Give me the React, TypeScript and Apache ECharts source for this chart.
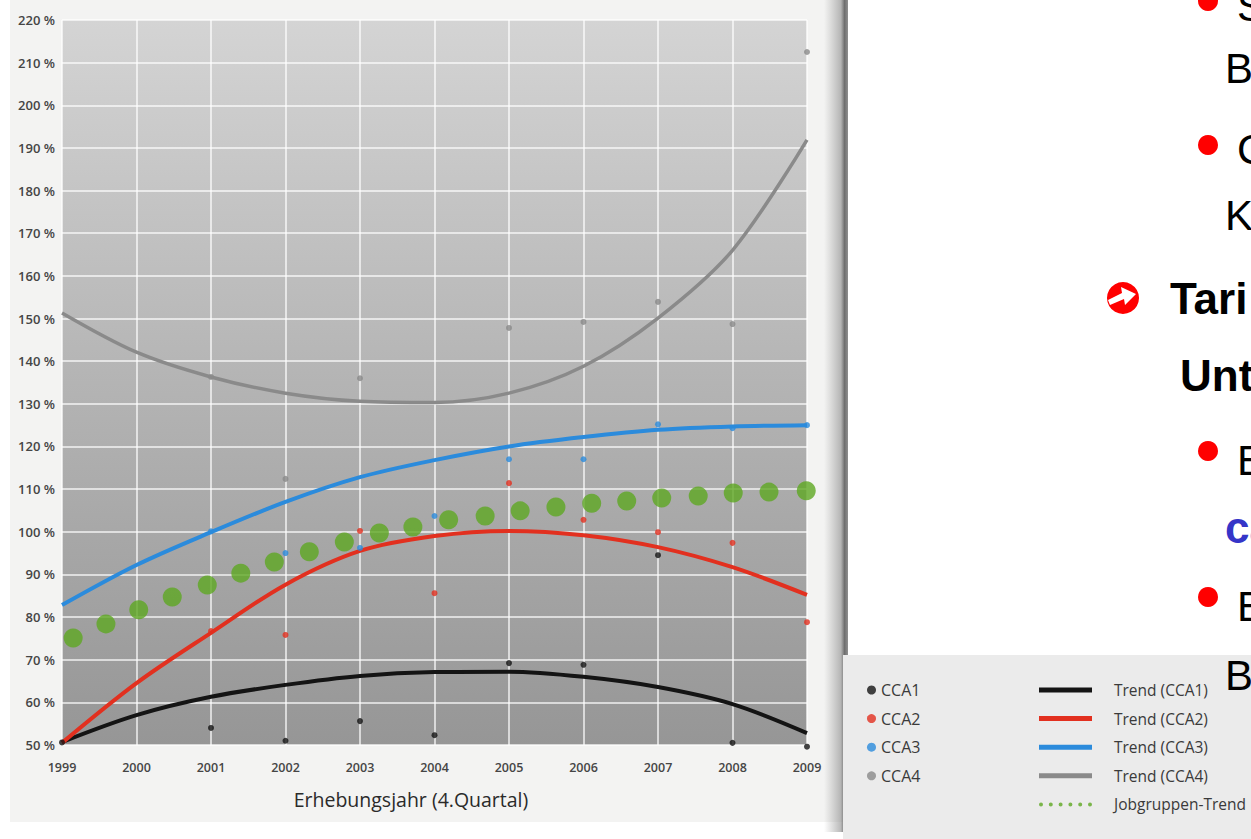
import React, { useEffect, useRef } from "react";
import * as echarts from "echarts";

// ---- data ----
const trendYears = [1999, 2000, 2001, 2002, 2003, 2004, 2005, 2006, 2007, 2008, 2009];
const trendCCA1 = [50.7, 57.0, 61.3, 64.1, 66.2, 67.1, 67.2, 66.0, 63.6, 59.6, 52.8];
const trendCCA2 = [50.5, 64.5, 76.3, 87.6, 95.5, 99.0, 100.2, 99.2, 96.4, 91.7, 85.2];
const trendCCA3 = [82.8, 92.2, 99.9, 107.0, 112.8, 116.8, 120.0, 122.2, 123.9, 124.7, 125.0];
const trendCCA4 = [151.3, 142.1, 136.3, 132.5, 130.6, 130.3, 132.5, 138.8, 150.1, 166.0, 191.9];

const cca1Years = [1999, 2001, 2002, 2003, 2004, 2005, 2006, 2007, 2008, 2009];
const cca1Values = [50.6, 54.0, 51.0, 55.6, 52.3, 69.2, 68.8, 94.5, 50.5, 49.6];
const cca2Years = [2001, 2002, 2003, 2004, 2005, 2006, 2007, 2008, 2009];
const cca2Values = [76.7, 75.8, 100.2, 85.6, 111.4, 102.8, 99.9, 97.4, 78.8];
const cca3Years = [2001, 2002, 2003, 2004, 2005, 2006, 2007, 2008, 2009];
const cca3Values = [100.1, 95.0, 96.2, 103.7, 117.0, 117.0, 125.2, 124.3, 125.0];
const cca4Years = [2001, 2002, 2003, 2005, 2006, 2007, 2008, 2009];
const cca4Values = [136.3, 112.4, 136.0, 147.8, 149.2, 153.9, 148.7, 212.5];

const jobYears = [1999.15, 1999.59, 2000.03, 2000.48, 2000.95, 2001.4, 2001.85, 2002.32, 2002.79, 2003.26, 2003.71,
  2004.19, 2004.68, 2005.15, 2005.63, 2006.11, 2006.58, 2007.05, 2007.54, 2008.01, 2008.49, 2008.99];
const jobValues = [75.1, 78.4, 81.7, 84.7, 87.5, 90.3, 92.9, 95.3, 97.6, 99.7, 101.1,
  102.8, 103.7, 104.9, 105.8, 106.7, 107.2, 107.9, 108.4, 109.1, 109.3, 109.6];

const scatterNames = ["CCA1", "CCA2", "CCA3", "CCA4"];
const trendNames = ["Trend (CCA1)", "Trend (CCA2)", "Trend (CCA3)", "Trend (CCA4)"];
const jobName = "Jobgruppen-Trend";
const xAxisTitle = "Erhebungsjahr (4.Quartal)";

const colBlack = "#141414";
const colRed = "#e2301f";
const colBlue = "#2b8bdc";
const colGray = "#8a8a8a";
const colGreen = "#5ea822";

const zip = (xs: number[], ys: number[]) => xs.map((x, i) => [x, ys[i]]);

const FONT = "'Open Sans', 'Noto Sans', sans-serif";

function slideText(text: string, x: number, y: number, size: number, bold: boolean, color = "#000") {
  return {
    type: "text",
    z: 20,
    style: {
      text,
      x,
      y,
      font: `${bold ? "bold " : ""}${size}px 'Liberation Sans', Arial, sans-serif`,
      fill: color,
      textAlign: "left",
      textVerticalAlign: "middle",
      align: "left",
      verticalAlign: "middle",
    },
  };
}

function bullet(cx: number, cy: number) {
  return { type: "circle", z: 20, shape: { cx, cy, r: 10 }, style: { fill: "#ff0000" } };
}

export default function App() {
  const ref = useRef<HTMLDivElement>(null);
  useEffect(() => {
    document.body.style.margin = "0";
    const chart = echarts.init(ref.current!, undefined, { renderer: "svg" });
    const lineSeries = (name: string, data: number[], color: string, width: number) => ({
      name,
      type: "line",
      data: zip(trendYears, data),
      smooth: 0.33,
      symbol: "none",
      color,
      lineStyle: { color, width },
      z: 2,
    });
    const dotSeries = (name: string, xs: number[], ys: number[], color: string) => ({
      name,
      type: "scatter",
      data: zip(xs, ys),
      symbol: "circle",
      symbolSize: 6,
      color,
      itemStyle: { color },
      clip: false,
      z: 5,
    });
    const dotsIcon =
      "path://M0,2a2,2 0 1,0 4,0a2,2 0 1,0 -4,0M9.8,2a2,2 0 1,0 4,0a2,2 0 1,0 -4,0M19.6,2a2,2 0 1,0 4,0a2,2 0 1,0 -4,0M29.4,2a2,2 0 1,0 4,0a2,2 0 1,0 -4,0M39.2,2a2,2 0 1,0 4,0a2,2 0 1,0 -4,0M49,2a2,2 0 1,0 4,0a2,2 0 1,0 -4,0";

    const option: any = {
      animation: false,
      backgroundColor: "transparent",
      grid: {
        left: 62,
        top: 20,
        width: 745,
        height: 725,
        show: true,
        borderWidth: 0,
        backgroundColor: new echarts.graphic.LinearGradient(0, 0, 0, 1, [
          { offset: 0, color: "#d4d4d4" },
          { offset: 0.5, color: "#b4b4b4" },
          { offset: 1, color: "#969696" },
        ]),
      },
      xAxis: {
        type: "value",
        min: 1999,
        max: 2009,
        interval: 1,
        axisLine: { show: false },
        axisTick: { show: false },
        splitLine: { show: true, lineStyle: { color: "rgba(255,255,255,0.85)", width: 1.5 } },
        axisLabel: {
          formatter: (v: number) => String(v),
          color: "#454545",
          fontFamily: FONT,
          fontWeight: 600,
          fontSize: 12.5,
          margin: 16,
        },
      },
      yAxis: {
        type: "value",
        min: 50,
        max: 220,
        interval: 10,
        axisLine: { show: false },
        axisTick: { show: false },
        splitLine: { show: true, lineStyle: { color: "rgba(255,255,255,0.85)", width: 1.5 } },
        axisLabel: {
          formatter: "{value} %",
          color: "#454545",
          fontFamily: FONT,
          fontWeight: 600,
          fontSize: 13,
          margin: 7,
        },
      },
      legend: [
        {
          data: scatterNames,
          orient: "vertical",
          left: 867,
          top: 682,
          padding: 0,
          itemWidth: 9,
          itemHeight: 9,
          itemGap: 12.6,
          icon: "circle",
          selectedMode: false,
          textStyle: { fontFamily: FONT, fontSize: 16, color: "#3a3a3a" },
        },
        {
          data: [
            ...trendNames.map((n) => ({ name: n, icon: "rect" })),
            { name: jobName, icon: dotsIcon },
          ],
          orient: "vertical",
          left: 1039,
          top: 682,
          padding: 0,
          itemWidth: 53,
          itemHeight: 5,
          itemGap: 12.6,
          symbolKeepAspect: true,
          selectedMode: false,
          textStyle: { fontFamily: FONT, fontSize: 15.5, color: "#3a3a3a", padding: [0, 0, 0, 17] },
        },
      ],
      series: [
        lineSeries(trendNames[0], trendCCA1, colBlack, 4),
        lineSeries(trendNames[1], trendCCA2, colRed, 4),
        lineSeries(trendNames[2], trendCCA3, colBlue, 4),
        lineSeries(trendNames[3], trendCCA4, colGray, 3.5),
        {
          name: jobName,
          type: "scatter",
          data: zip(jobYears, jobValues),
          symbol: "circle",
          symbolSize: 19,
          color: colGreen,
          itemStyle: { color: colGreen },
          clip: false,
          z: 4,
        },
        dotSeries(scatterNames[0], cca1Years, cca1Values, colBlack),
        dotSeries(scatterNames[1], cca2Years, cca2Values, colRed),
        dotSeries(scatterNames[2], cca3Years, cca3Values, colBlue),
        dotSeries(scatterNames[3], cca4Years, cca4Values, colGray),
      ],
      graphic: [
        // scanned page
        { type: "rect", z: -20, shape: { x: 10, y: 0, width: 833, height: 822 }, style: { fill: "#f3f3f2" } },
        {
          type: "rect",
          z: -19,
          shape: { x: 824, y: 0, width: 24, height: 832 },
          style: {
            fill: new echarts.graphic.LinearGradient(0, 0, 1, 0, [
              { offset: 0, color: "rgba(150,150,150,0)" },
              { offset: 0.7, color: "rgba(140,140,140,0.6)" },
              { offset: 0.85, color: "#6e6e6e" },
              { offset: 1, color: "#909090" },
            ]),
          },
        },
        // legend panel
        { type: "rect", z: -5, shape: { x: 843, y: 655, width: 408, height: 184 }, style: { fill: "#ebebeb" } },
        // x-axis title
        {
          type: "text",
          z: 10,
          style: {
            text: xAxisTitle,
            x: 411,
            y: 799,
            font: `19.5px ${FONT}`,
            fill: "#2a2a2a",
            textAlign: "center",
            textVerticalAlign: "middle",
            align: "center",
            verticalAlign: "middle",
          },
        },
        // slide fragments on the right
        bullet(1208, 1),
        slideText("S", 1237, 6, 42, false),
        slideText("B", 1225, 68, 42, false),
        bullet(1208, 145),
        slideText("C", 1237, 149, 42, false),
        slideText("K", 1225, 215, 42, false),
        { type: "circle", z: 20, shape: { cx: 1123, cy: 298, r: 16 }, style: { fill: "#ff0000" } },
        {
          type: "polygon",
          z: 21,
          shape: { points: [[1108, 300], [1122, 293], [1121, 287], [1136, 294], [1125, 305], [1124, 299], [1110, 305]] },
          style: { fill: "#ffffff" },
        },
        slideText("Tari", 1170, 298, 44, true),
        slideText("Unt", 1180, 375, 44, true),
        bullet(1208, 451),
        slideText("E", 1237, 460, 42, false),
        slideText("ca", 1225, 527, 44, true, "#3535c8"),
        bullet(1208, 597),
        slideText("E", 1237, 606, 42, false),
        slideText("B", 1225, 675, 42, false),
      ],
    };
    chart.setOption(option);
    return () => chart.dispose();
  }, []);
  return (
    <div
      ref={ref}
      style={{ position: "absolute", left: 0, top: 0, width: 1251, height: 839, background: "#ffffff" }}
    />
  );
}
